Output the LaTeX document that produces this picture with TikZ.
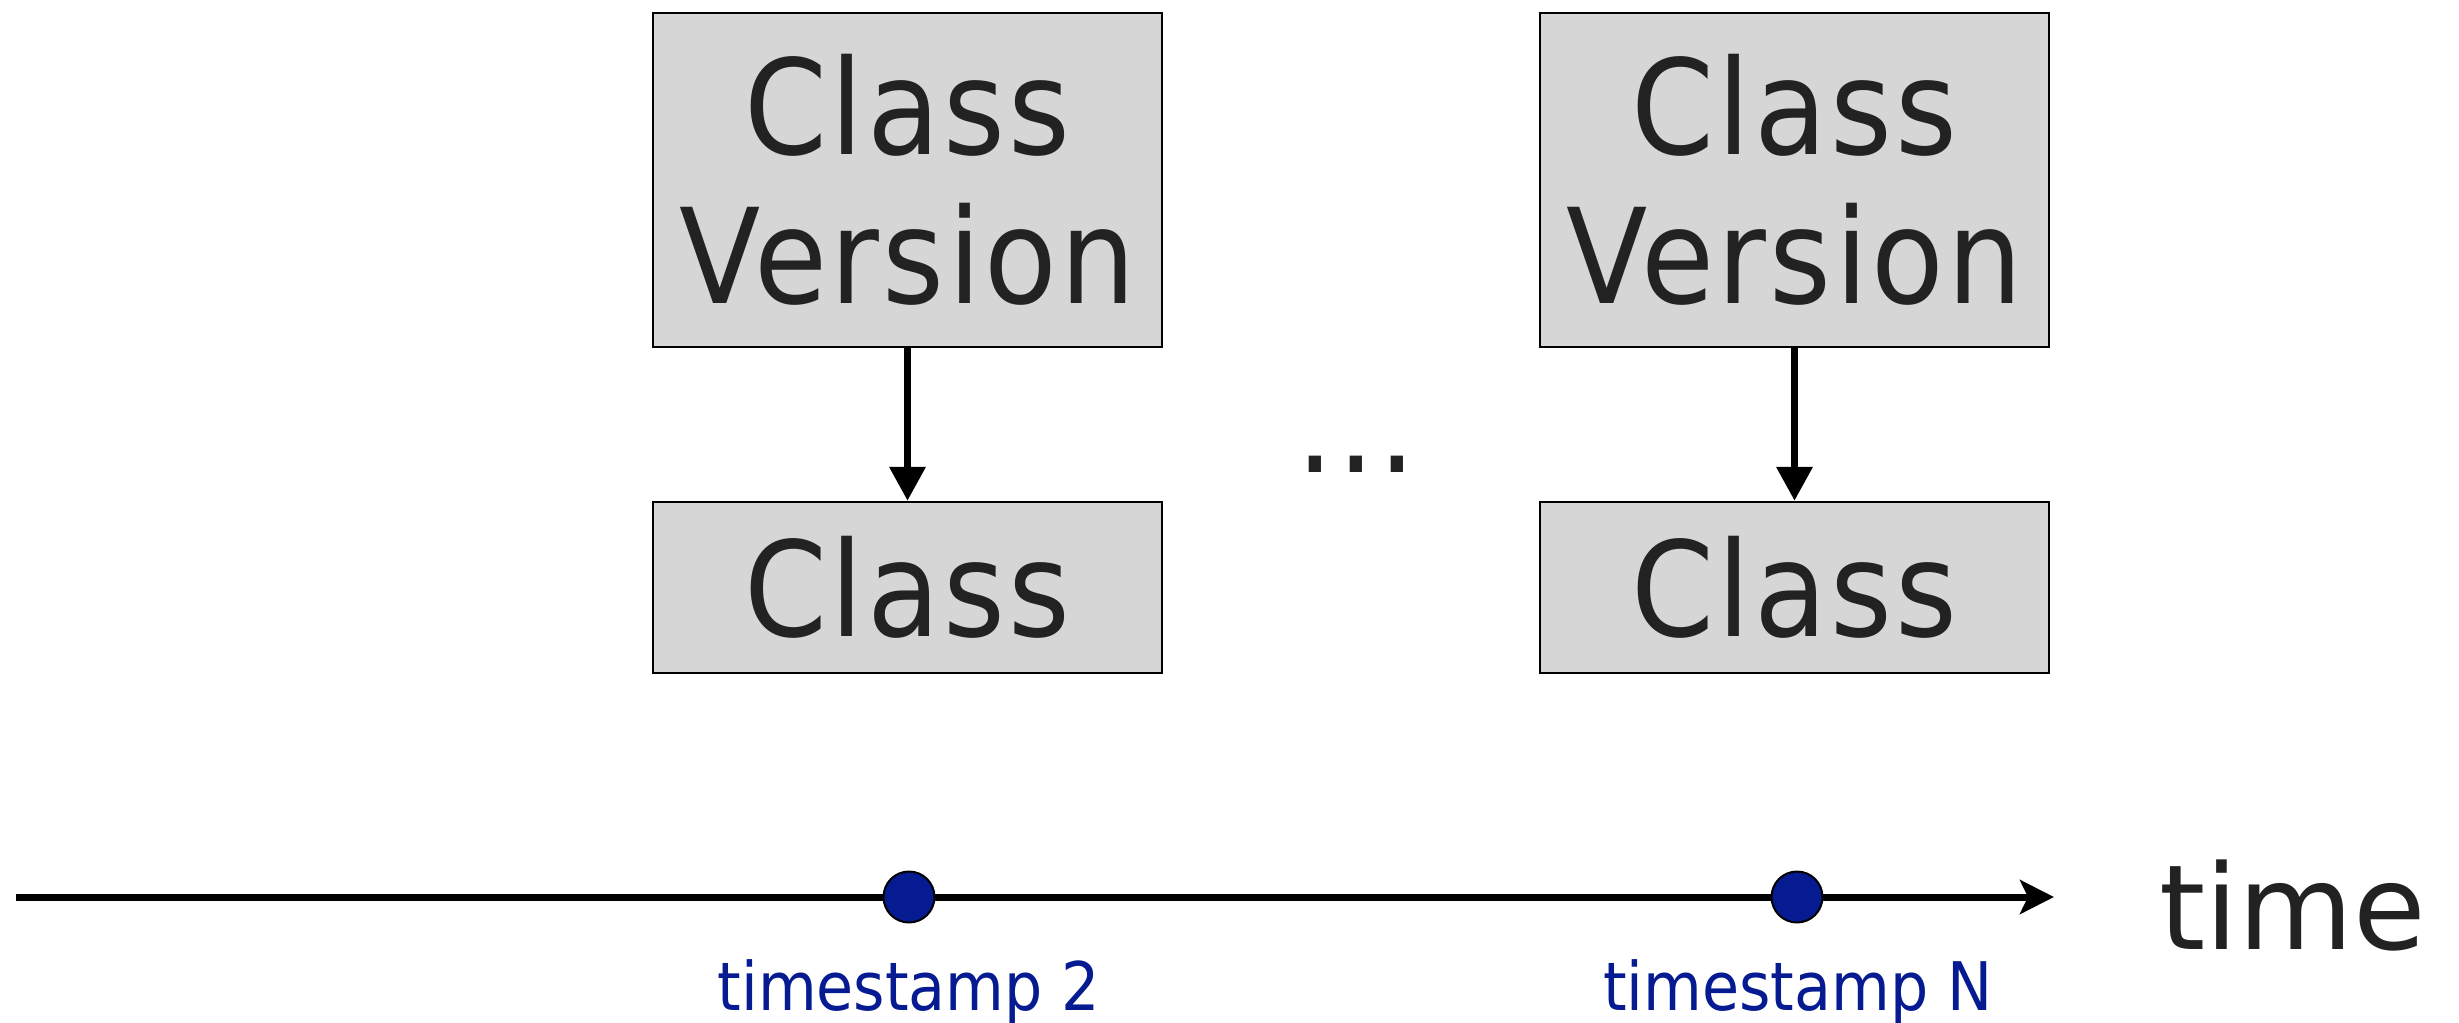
\documentclass[tikz,border=0pt]{standalone}
\usepackage{fontspec}
\usetikzlibrary{arrows.meta}
\newfontfamily\boxfont[FakeStretch=0.9,LetterSpace=2.5]{DejaVu Sans}
\newfontfamily\labelfont[FakeStretch=0.9]{DejaVu Sans}
\newfontfamily\plainfont{DejaVu Sans}
\definecolor{boxgray}{HTML}{D6D6D6}
\definecolor{inkgray}{HTML}{222222}
\definecolor{tsblue}{HTML}{061A91}
\begin{document}
\begin{tikzpicture}[x=0.5pt,y=-0.5pt,
  classbox/.style={draw=black, line width=1.25pt, fill=boxgray, text=inkgray,
    inner sep=0pt, align=center, minimum width=254.5pt,
    font=\boxfont\fontsize{66}{74.5}\selectfont},
  conn/.style={line width=3.5pt, -{Triangle[length=17pt,width=17.5pt]}},
  timeline/.style={line width=3.5pt, -{Stealth[length=17pt,width=17pt,inset=4pt]}},
  tsdot/.style={circle, draw=black, line width=1pt, fill=tsblue, minimum size=25.5pt, inner sep=0pt},
  tslabel/.style={text=tsblue, inner sep=0pt, font=\labelfont\fontsize{33.5}{40}\selectfont},
  bigtext/.style={text=inkgray, inner sep=0pt, font=\boxfont\fontsize{66}{74.5}\selectfont},
  timetext/.style={text=inkgray, inner sep=0pt, font=\plainfont\fontsize{59}{70}\selectfont}]
\useasboundingbox (0,0) rectangle (2459,1023);

% boxes
\node[classbox, minimum height=167pt] (cv1) at (907.5,180) {Class\\Version};
\node[classbox, minimum height=85.5pt] (c1) at (907.5,587.5) {Class};
\node[classbox, minimum height=167pt] (cv2) at (1794.5,180) {Class\\Version};
\node[classbox, minimum height=85.5pt] (c2) at (1794.5,587.5) {Class};

\draw[conn] (cv1.south) -- (c1.north);
\draw[conn] (cv2.south) -- (c2.north);

\node[bigtext, anchor=base] (dots) at (1356,472) {...};

% timeline
\coordinate (tstart) at (16,897);
\coordinate (tend) at (2054,897);
\draw[timeline] (tstart) -- (tend);

\node[tsdot] (d1) at (909,897) {};
\node[tsdot] (d2) at (1797,897) {};

\node[tslabel, anchor=base] (l1) at (909,1010) {timestamp 2};
\node[tslabel, anchor=base] (l2) at (1798,1010) {timestamp N};

\node[timetext, anchor=base] (time) at (2293,949) {time};
\end{tikzpicture}
\end{document}
